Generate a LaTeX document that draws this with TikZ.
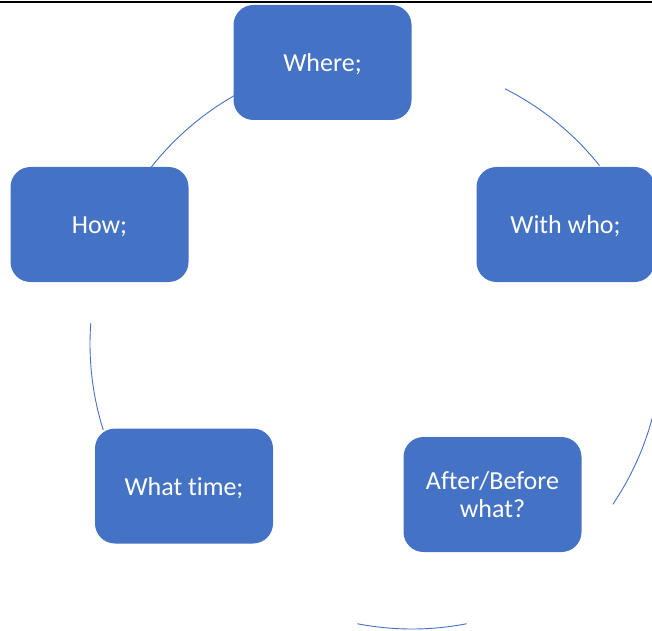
\documentclass[tikz,border=0pt]{standalone}
\usepackage{fontspec}
\setmainfont{Carlito}[Ligatures={NoCommon}]
\definecolor{officeblue}{RGB}{68,114,196}
\newcommand{\boxstrut}{\rule{0pt}{22pt}}
\tikzset{
  cyclebox/.style={rectangle, rounded corners=20pt, fill=officeblue, draw=none,
    minimum width=178pt, minimum height=115pt, inner sep=0pt,
    text=white, align=center, font=\fontsize{26}{28}\selectfont},
  cyclearc/.style={draw=officeblue, line width=0.9pt},
  topline/.style={draw=black, line width=2.3pt}
}
\begin{document}
\begin{tikzpicture}[x=1pt,y=1pt]
\useasboundingbox (0,0) rectangle (652,630);
\clip (0,0) rectangle (652,630);
\coordinate (c) at (376,286);
\coordinate (cb) at (412,287);
\coordinate (tl) at (0,627.8);
\coordinate (tr) at (652,627.8);
\draw[topline] (tl) -- (tr);
% cycle arcs
\draw[cyclearc] ([shift={(63.2:286)}]c) arc[start angle=63.2, end angle=38.6, radius=286];
\draw[cyclearc] ([shift={(4:286)}]c) arc[start angle=4, end angle=-34.1, radius=286];
\draw[cyclearc] ([shift={(-79:286)}]cb) arc[start angle=-79, end angle=-101, radius=286];
\draw[cyclearc] ([shift={(197.5:286)}]c) arc[start angle=197.5, end angle=175.8, radius=286];
\draw[cyclearc] ([shift={(142.3:286)}]c) arc[start angle=142.3, end angle=119.7, radius=286];
% boxes
\node[cyclebox] (where) at (322.5,567.5) {\boxstrut Where;};
\node[cyclebox] (withwho) at (565.5,405.5) {\boxstrut With who;};
\node[cyclebox] (how) at (99.5,405.5) {\boxstrut How;};
\node[cyclebox] (whattime) at (184,144) {\boxstrut What time;};
\node[cyclebox] (afterbefore) at (492.5,135.5) {After/Before\\what?};
\end{tikzpicture}
\end{document}
